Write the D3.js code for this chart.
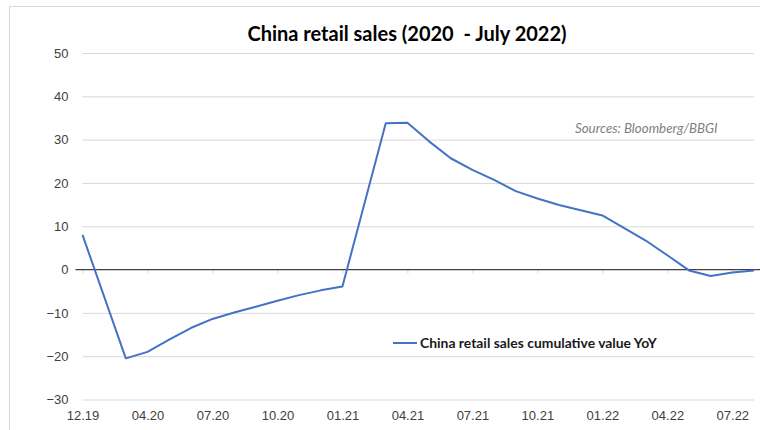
<!DOCTYPE html>
<html>
<head>
<meta charset="utf-8">
<script src="https://cdn.jsdelivr.net/npm/d3@7"></script>
<style>
    body { margin: 0; background: #fff; }
    svg { display: block; font-family: Lato, 'Open Sans', sans-serif; }
    .axis text { fill: #404040; font-size: 13px; }
    .axis path { display: none; }
</style>
</head>
<body>
<div id="vis"></div>
<script>
'use strict';

//data (cumulative YoY %, Jan figures are reported together with Feb)
var months = ['2019-12', '2020-02', '2020-03', '2020-04', '2020-05', '2020-06', '2020-07', '2020-08',
    '2020-09', '2020-10', '2020-11', '2020-12', '2021-02', '2021-03', '2021-04', '2021-05', '2021-06',
    '2021-07', '2021-08', '2021-09', '2021-10', '2021-11', '2021-12', '2022-02', '2022-03', '2022-04',
    '2022-05', '2022-06', '2022-07'];
var values = [8.0, -20.5, -19.0, -16.2, -13.5, -11.4, -9.9, -8.6,
    -7.2, -5.9, -4.8, -3.9, 33.8, 33.9, 29.6, 25.7, 23.0,
    20.7, 18.1, 16.4, 14.9, 13.7, 12.5, 6.7, 3.3, -0.2,
    -1.5, -0.7, -0.2];
var yTicks = [-30, -20, -10, 0, 10, 20, 30, 40, 50];
var xTickMonths = [0, 3, 6, 9, 12, 15, 18, 21, 24, 27, 30];
var xTickLabels = ['12.19', '04.20', '07.20', '10.20', '01.21', '04.21', '07.21', '10.21', '01.22', '04.22', '07.22'];

var title = 'China retail sales (2020\u00a0 - July 2022)';
var seriesName = 'China retail sales cumulative value YoY';
var source = 'Sources: Bloomberg/BBGI';

//layout
var W = 760, H = 430;
var margin = { top: 53, right: 6, bottom: 31, left: 82.5 };
var dim = { w: W - margin.left - margin.right, h: H - margin.top - margin.bottom };

//month index since 12.19
function monthIndex(s) {
    var p = s.split('-');
    return (+p[0] - 2019) * 12 + (+p[1]) - 12;
}
var data = months.map(function (m, i) {
    return { m: monthIndex(m), v: values[i] };
});

var x = d3.scaleLinear().domain([0, 31]).range([0, 671.5]);
var y = d3.scaleLinear().domain([-30, 50]).range([346.5, 0]);

var svg = d3.select('#vis')
    .append('svg')
    .attr('width', W)
    .attr('height', H);

//chart frame
svg.append('rect')
    .attr('x', 9.5).attr('y', 6.5)
    .attr('width', W).attr('height', H)
    .style('fill', 'none')
    .style('stroke', '#d9d9d9');

var g = svg.append('g')
    .attr('transform', 'translate(' + margin.left + ', ' + margin.top + ')');

//gridlines
g.append('g')
    .attr('class', 'grid')
    .selectAll('line')
    .data(yTicks.filter(function (d) { return d !== 0; }))
    .enter()
    .append('line')
    .attr('x1', 0)
    .attr('x2', x(31))
    .attr('y1', function (d) { return y(d) + 0.5; })
    .attr('y2', function (d) { return y(d) + 0.5; })
    .style('stroke', '#d9d9d9')
    .style('stroke-width', 1);

//y labels
g.append('g')
    .attr('class', 'axis')
    .call(d3.axisLeft(y).tickValues(yTicks).tickSize(0).tickPadding(14));

//small ticks on zero line
g.append('g')
    .attr('transform', 'translate(0, ' + y(0) + ')')
    .call(d3.axisBottom(x).tickValues(xTickMonths).tickSize(4).tickFormat(''))
    .call(function (a) {
        a.select('.domain').remove();
        a.selectAll('line').style('stroke', '#d9d9d9');
    });

//x labels
g.append('g')
    .attr('class', 'axis')
    .attr('transform', 'translate(0, ' + dim.h + ')')
    .call(d3.axisBottom(x).tickValues(xTickMonths).tickSize(0).tickPadding(12)
        .tickFormat(function (d, i) { return xTickLabels[i]; }));

//zero line
g.append('line')
    .attr('x1', -7)
    .attr('x2', W - margin.left)
    .attr('y1', y(0))
    .attr('y2', y(0))
    .style('stroke', '#404040')
    .style('stroke-width', 1.3);

//series
var line = d3.line()
    .x(function (d) { return x(d.m); })
    .y(function (d) { return y(d.v); });
g.append('path')
    .datum(data)
    .attr('d', line)
    .style('fill', 'none')
    .style('stroke', '#4472c4')
    .style('stroke-width', 2)
    .style('stroke-linejoin', 'round');

//title
svg.append('text')
    .attr('x', 407)
    .attr('y', 41)
    .attr('text-anchor', 'middle')
    .style('font-size', '20px')
    .style('font-weight', 'bold')
    .style('fill', '#000')
    .text(title);

//source
svg.append('text')
    .attr('x', 575)
    .attr('y', 133)
    .style('font-size', '13.3px')
    .style('font-style', 'italic')
    .style('fill', '#7f7f7f')
    .text(source);

//legend
svg.append('line')
    .attr('x1', 393).attr('x2', 417)
    .attr('y1', 343).attr('y2', 343)
    .style('stroke', '#4472c4')
    .style('stroke-width', 2);
svg.append('text')
    .attr('x', 420)
    .attr('y', 347.5)
    .style('font-size', '13.9px')
    .style('font-weight', 'bold')
    .style('fill', '#1a1a1a')
    .text(seriesName);
</script>
</body>
</html>
